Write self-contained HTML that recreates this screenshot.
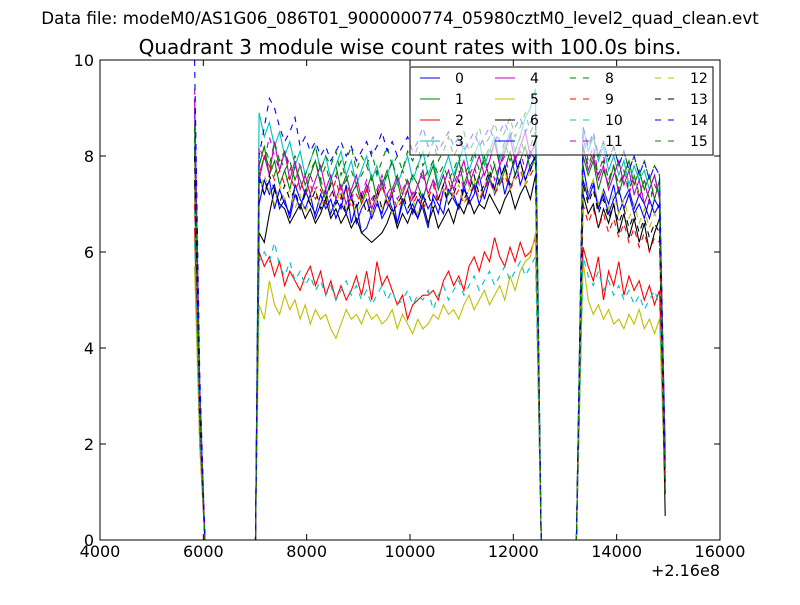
<!DOCTYPE html>
<html><head><meta charset="utf-8"><style>
body{margin:0;background:#fff;width:800px;height:600px;overflow:hidden}
svg text{font-family:"DejaVu Sans","Liberation Sans",sans-serif}
</style></head><body>
<svg id="chart" width="800" height="600" xmlns="http://www.w3.org/2000/svg">
<rect width="800" height="600" fill="#fff"/>
<text x="400" y="24" font-size="16.7" text-anchor="middle">Data file: modeM0/AS1G06_086T01_9000000774_05980cztM0_level2_quad_clean.evt</text>
<text x="410" y="54" font-size="20" text-anchor="middle">Quadrant 3 module wise count rates with 100.0s bins.</text>
<g id="plot"></g>
<g id="axes"></g>
<g id="legend"></g>
</svg>
<script>
const seg1=[[9.0,3.0],[8.7,2.5],[6.5,2.0],[7.0,2.8],[9.2,3.2],[5.7,2.0],[7.5,2.6],[8.2,2.4],[8.4,2.8],[7.0,2.2],[6.2,2.2],[9.4,3.3],[7.8,2.6],[8.0,2.7],[10.0,3.5],[8.6,2.9]];
const seg2=[
[7.6,7.2,7.5,6.9,7.3,7.0,6.8,7.4,7.1,6.9,7.2,6.7,7.0,7.3,6.8,7.1,6.9,7.4,6.6,7.0,6.4,6.5,6.8,7.1,6.7,6.9,7.2,6.6,7.0,7.3,6.8,7.1,6.9,6.5,7.2,7.0,6.8,7.3,7.1,6.9,7.4,7.0,7.2,7.6,7.1,7.5,7.3,7.8,7.2,7.6,8.0,7.4,7.7,8.1,7.9],
[7.8,8.2,7.6,7.9,7.4,7.7,7.3,7.8,7.5,7.2,7.6,7.9,7.4,7.1,7.5,7.8,7.3,7.6,7.2,7.4,7.0,7.3,7.6,7.1,7.4,7.7,7.2,7.5,7.0,7.3,7.6,7.4,7.1,7.5,7.8,7.3,7.6,7.2,7.5,7.9,7.4,7.7,7.3,7.6,8.0,7.5,7.8,7.4,7.7,8.1,7.6,7.9,8.2,7.7,8.0],
[6.0,5.7,5.9,5.5,5.8,5.3,5.6,5.4,5.2,5.5,5.7,5.3,5.6,5.1,5.4,5.0,5.3,5.0,5.2,5.5,5.1,5.6,5.0,5.8,5.3,5.5,5.2,4.9,5.1,4.6,4.9,5.0,5.1,5.1,5.2,5.0,5.4,5.6,5.3,5.5,5.2,5.7,5.9,5.6,6.0,5.8,6.3,5.9,5.7,6.1,5.8,6.2,5.9,6.0,6.3],
[8.9,8.4,8.7,8.2,8.5,8.0,8.3,7.8,8.1,7.6,7.9,8.2,7.7,8.0,7.5,7.8,8.1,7.6,7.9,7.4,7.7,8.0,7.5,7.8,7.3,7.6,7.9,7.4,7.7,8.0,7.5,7.8,8.1,7.6,7.9,7.4,7.7,8.0,7.6,7.9,8.2,7.7,8.0,8.3,7.8,8.1,8.4,7.9,8.2,8.5,8.1,8.4,8.8,9.0,9.4],
[7.5,8.0,7.6,8.3,7.7,8.1,7.5,7.9,7.3,7.6,7.2,7.5,7.8,7.3,7.6,7.1,7.4,7.0,7.3,7.6,7.1,7.4,6.9,7.2,7.5,7.0,7.3,7.6,7.2,7.5,7.1,7.4,7.7,7.2,7.5,7.1,7.4,7.7,7.3,7.6,7.9,7.4,7.7,8.0,7.6,7.9,8.3,7.8,8.1,8.4,7.9,8.2,8.5,8.0,8.3],
[4.9,4.6,5.4,4.9,4.7,5.1,4.8,5.0,4.6,4.9,4.5,4.8,4.6,4.7,4.4,4.2,4.5,4.8,4.6,4.7,4.5,4.8,4.6,4.7,4.5,4.6,4.8,4.4,4.7,4.5,4.3,4.6,4.4,4.5,4.7,4.6,4.9,4.7,4.8,4.6,4.9,5.1,4.8,5.0,5.2,4.9,5.1,5.3,5.0,5.5,5.2,5.6,5.8,5.9,6.4],
[6.4,6.2,6.8,7.3,7.0,6.9,6.6,6.8,7.0,6.7,6.9,6.6,6.8,7.1,6.7,6.9,6.6,6.8,6.5,6.7,6.4,6.3,6.2,6.3,6.4,6.6,6.9,6.5,6.8,6.6,6.9,6.7,7.0,6.6,6.9,6.5,6.7,6.9,6.6,7.0,6.8,7.1,6.8,7.0,6.9,7.2,7.0,6.8,7.1,7.3,6.9,7.2,7.4,7.1,7.6],
[7.0,7.5,7.2,7.4,6.9,7.1,6.7,7.2,6.9,7.3,7.0,6.8,7.2,6.9,7.1,6.7,7.0,6.8,7.2,6.6,6.9,7.1,6.7,7.0,6.8,7.2,6.9,6.6,7.1,6.8,7.0,6.7,7.2,6.9,7.1,6.8,7.3,7.0,7.2,6.9,7.3,7.1,7.4,7.0,7.3,7.6,7.2,7.5,7.8,7.3,7.6,7.9,7.5,7.8,8.0],
[7.6,8.0,7.8,8.3,7.9,8.1,7.7,8.0,7.8,7.6,7.9,8.2,7.7,8.0,7.8,8.1,7.6,7.9,8.2,7.7,8.0,7.8,8.1,7.6,7.9,8.2,7.8,8.0,7.7,8.1,7.9,8.2,7.8,8.0,8.3,7.9,8.1,8.4,8.0,8.2,8.5,8.1,8.3,8.6,8.2,8.4,8.7,8.3,8.5,8.8,8.4,8.6,8.9,8.5,8.7],
[7.6,8.0,7.8,7.5,7.7,7.4,7.6,7.3,7.5,7.2,7.4,7.1,7.3,7.0,7.2,7.5,7.1,7.3,6.9,7.2,7.0,7.3,6.8,7.1,7.4,7.0,7.2,6.9,7.1,7.3,7.0,7.2,6.9,7.1,7.4,7.0,7.2,7.5,7.1,7.3,7.0,7.2,7.4,7.1,7.3,7.5,7.2,7.4,7.6,7.3,7.5,7.7,7.4,7.6,7.8],
[5.8,6.0,5.8,6.2,5.7,5.5,5.8,5.4,5.6,5.3,5.5,5.2,5.4,5.1,5.3,5.0,5.2,5.4,5.1,5.3,5.0,5.2,4.9,5.1,5.3,5.0,5.2,4.9,5.0,5.2,4.9,5.1,5.0,5.2,4.8,5.1,5.3,5.0,5.2,5.4,5.1,5.3,5.5,5.2,5.4,5.6,5.3,5.5,5.7,5.4,5.6,5.8,5.5,5.7,5.9],
[8.2,7.9,8.4,8.0,7.7,8.1,7.8,7.5,7.8,7.4,7.6,7.3,7.5,7.2,7.4,7.6,7.3,7.5,7.1,7.4,7.2,7.5,7.1,7.3,7.6,7.2,7.4,7.1,7.3,7.5,7.2,7.4,7.6,7.2,7.5,7.3,7.6,7.2,7.4,7.7,7.3,7.6,7.8,7.4,7.7,7.9,7.5,7.8,8.0,7.6,7.9,8.1,7.7,8.0,8.2],
[7.2,7.6,7.3,7.0,7.4,7.1,7.3,6.9,7.2,6.8,7.1,7.3,6.9,7.2,6.8,7.0,7.3,6.9,7.1,6.8,7.0,7.2,6.8,7.1,6.9,7.2,6.8,7.0,7.3,6.9,7.1,6.8,7.0,7.2,6.9,7.1,7.3,7.0,7.2,7.4,7.0,7.3,7.5,7.1,7.4,7.6,7.2,7.5,7.7,7.3,7.6,7.8,7.4,7.7,7.9],
[7.5,7.2,7.6,7.3,7.0,7.4,7.1,7.3,6.9,7.2,7.0,7.3,6.9,7.1,7.4,7.0,7.2,6.8,7.1,6.9,7.2,6.8,7.0,7.3,6.9,7.1,6.8,7.0,7.2,6.9,7.1,7.3,7.0,7.2,6.9,7.1,7.4,7.0,7.2,7.5,7.1,7.3,7.6,7.2,7.4,7.7,7.3,7.5,7.8,7.4,7.6,7.9,7.5,7.7,8.0],
[8.0,8.6,9.2,9.0,8.6,8.3,8.5,8.8,8.2,8.4,8.1,8.3,8.0,8.2,7.9,8.1,8.3,8.0,8.2,7.9,8.1,8.3,8.0,8.2,8.5,8.1,8.3,8.0,8.2,8.4,8.1,8.3,8.6,8.2,8.4,8.1,8.3,8.5,8.2,8.4,8.1,8.3,8.5,8.2,8.4,8.6,8.3,8.5,8.7,8.4,8.6,8.8,8.5,8.7,8.9],
[7.8,8.2,7.9,7.6,8.0,7.7,7.9,7.5,7.8,7.4,7.7,7.9,7.5,7.8,7.4,7.6,7.9,7.5,7.7,7.4,7.6,7.8,7.5,7.7,7.4,7.6,7.9,7.5,7.7,7.4,7.6,7.8,7.5,7.7,7.9,7.6,7.8,7.5,7.7,8.0,7.6,7.8,8.1,7.7,7.9,8.2,7.8,8.0,8.3,7.9,8.1,8.4,8.0,8.2,8.5]];
const seg3=[
[7.8,7.2,7.5,6.9,7.3,7.0,7.4,6.8,7.1,7.3,6.9,7.2,7.0,6.7,7.1,6.9],
[8.0,7.6,7.9,7.3,7.7,7.4,7.8,7.2,7.6,7.9,7.4,7.7,7.3,7.6,7.1,7.5],
[6.1,5.7,5.4,5.9,5.0,5.6,5.3,5.8,5.1,5.5,5.2,5.4,5.0,5.3,4.9,5.2],
[8.6,8.1,8.4,7.9,8.2,7.7,8.0,7.6,7.9,7.4,7.8,7.5,7.7,7.3,7.6,7.2],
[8.2,7.7,8.0,7.5,7.8,7.3,7.6,7.9,7.4,7.7,7.2,7.5,7.0,7.3,7.6,7.1],
[5.8,5.0,4.7,4.9,4.6,4.8,4.5,4.6,4.4,4.7,4.5,4.8,4.4,4.6,4.3,4.6],
[7.2,6.8,7.0,6.5,6.9,6.6,7.0,6.4,6.8,6.3,6.7,6.2,6.6,6.0,6.4,6.7],
[7.5,7.1,7.4,6.9,7.2,6.8,7.1,7.3,6.9,7.2,6.8,7.0,6.7,7.1,6.8,7.0],
[8.6,8.2,8.4,8.0,8.3,7.9,8.2,7.8,8.1,7.7,8.0,7.6,7.9,7.5,7.8,7.6],
[7.0,6.6,6.9,6.5,6.8,6.4,6.7,6.3,6.6,6.2,6.5,6.1,6.4,6.0,6.3,6.2],
[5.9,5.5,5.3,5.6,5.2,5.4,5.1,5.3,5.0,5.2,4.9,5.1,4.8,5.0,5.2,4.9],
[8.4,7.9,8.2,7.6,8.0,7.5,7.8,7.3,7.7,7.2,7.6,7.1,7.5,7.0,7.4,7.2],
[7.6,7.2,7.5,7.0,7.3,6.9,7.2,6.8,7.1,6.7,7.0,6.6,6.9,6.5,6.8,6.6],
[7.4,7.0,7.3,6.8,7.1,6.7,7.0,6.6,6.9,6.5,6.8,6.4,6.7,6.3,6.6,6.4],
[8.6,8.2,8.5,8.0,8.3,7.9,8.2,7.8,8.1,7.7,8.0,7.6,7.9,7.5,7.8,7.6],
[8.2,7.8,8.1,7.6,7.9,7.5,7.8,7.4,7.7,7.3,7.6,7.2,7.5,7.1,7.4,7.2]];
const endVals=[1.5,1.0,1.5,2.0,1.8,1.0,0.5,1.2,1.2,1.0,1.3,1.4,1.1,0.9,1.6,1.0];
const seriesLabels=["0","1","2","3","4","5","6","7","8","9","10","11","12","13","14","15"];
const seriesColors=["#0000ff","#008000","#ff0000","#00bfbf","#bf00bf","#bfbf00","#000000","#0000ff","#008000","#ff0000","#00bfbf","#bf00bf","#bfbf00","#000000","#0000ff","#008000"];
const xTicks=[4000,6000,8000,10000,12000,14000,16000];
const yTicks=[0,2,4,6,8,10];
const seg1Times=[5830,5930];
const gap1Times=[6030,7010];
const seg2Start=7080, seg3Start=13350, binSize=100;
const gap2Times=[12540,13220];
const endTime=14940;

const L=100,R=720,T=60,B=540;
const xs=v=>L+(v-4000)/12000*(R-L);
const ys=v=>B-v/10*(B-T);
const NS="http://www.w3.org/2000/svg";
function mk(tag,attrs,parent){const e=document.createElementNS(NS,tag);for(const k in attrs)e.setAttribute(k,attrs[k]);parent.appendChild(e);return e;}
const plot=document.getElementById('plot'),axes=document.getElementById('axes'),leg=document.getElementById('legend');
const clip=mk('clipPath',{id:'clp'},plot);mk('rect',{x:L,y:T,width:R-L,height:B-T+1},clip);
for(let s=0;s<16;s++){
  const t=[],v=[];
  seg1Times.forEach((x,i)=>{t.push(x);v.push(seg1[s][i]);});
  gap1Times.forEach(x=>{t.push(x);v.push(0);});
  seg2[s].forEach((y,i)=>{t.push(seg2Start+i*binSize*(5350/5400));v.push(y);});
  gap2Times.forEach(x=>{t.push(x);v.push(0);});
  seg3[s].forEach((y,i)=>{t.push(seg3Start+i*binSize*(1480/1500));v.push(y);});
  t.push(endTime);v.push(endVals[s]);
  const d=t.map((x,i)=>(i?'L':'M')+xs(x).toFixed(1)+' '+ys(v[i]).toFixed(1)).join(' ');
  const p=mk('path',{d:d,fill:'none',stroke:seriesColors[s],'stroke-width':1.1,'clip-path':'url(#clp)'},plot);
  if(s>=8)p.setAttribute('stroke-dasharray','6,6');
  
  
}
const frame=mk('rect',{x:L,y:T,width:R-L,height:B-T,fill:'none',stroke:'#000','stroke-width':1},axes);


xTicks.forEach(v=>{const x=xs(v);
  mk('line',{x1:x,x2:x,y1:B,y2:B-6,stroke:'#000'},axes);mk('line',{x1:x,x2:x,y1:T,y2:T+6,stroke:'#000'},axes);
  const tx=mk('text',{x:x,y:B+17,'font-size':16,'text-anchor':'middle'},axes);tx.textContent=v;
  
  });
yTicks.forEach(v=>{const y=ys(v);
  mk('line',{x1:L,x2:L+6,y1:y,y2:y,stroke:'#000'},axes);mk('line',{x1:R,x2:R-6,y1:y,y2:y,stroke:'#000'},axes);
  const tx=mk('text',{x:L-6,y:y+6,'font-size':16,'text-anchor':'end'},axes);tx.textContent=v;
  
  });
const off=mk('text',{x:720,y:576,'font-size':16,'text-anchor':'end'},axes);off.textContent='+2.16e8';


const lb=mk('rect',{x:410,y:67,width:303,height:88,fill:'#fff','fill-opacity':0.6,stroke:'#000','stroke-width':1},leg);


const colLine=[420,495,570,655],colText=[455,530,605,690],rowY=[78,99,120,141];
for(let s=0;s<16;s++){const c=Math.floor(s/4),r=s%4;
  const g=mk('g',{},leg);
  
  
  const ln=mk('line',{x1:colLine[c],x2:colLine[c]+20,y1:rowY[r],y2:rowY[r],stroke:seriesColors[s],'stroke-width':1.1},g);
  if(s>=8)ln.setAttribute('stroke-dasharray','6,7');
  const tx=mk('text',{x:colText[c],y:rowY[r]+5,'font-size':14},g);tx.textContent=seriesLabels[s];}
</script>
</body></html>
